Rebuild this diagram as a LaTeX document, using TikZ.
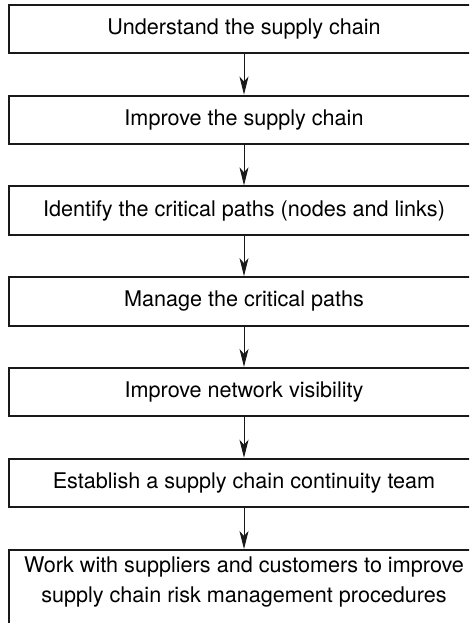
\documentclass[tikz,border=0pt]{standalone}
\usepackage{fontspec}
\setmainfont{TeX Gyre Heros}
\usetikzlibrary{arrows.meta}
\begin{document}
\begin{tikzpicture}[x=1pt,y=-1pt,
    stepbox/.style={draw=black!90,line width=2pt,minimum width=470pt,minimum height=48.5pt,inner sep=0pt,font=\fontsize{21.6}{30}\selectfont},
    steptext/.style={align=center,inner sep=0pt,font=\fontsize{21.6}{30}\selectfont},
    flow/.style={-{Stealth[length=18pt,width=9pt,inset=5pt]},line width=0.9pt,black!90}]
    \clip (0,0) rectangle (469,623);

    \node[stepbox] (1) at (244,29) {Understand the supply chain};
    \node[stepbox] (2) at (244,119.8) {Improve the supply chain};
    \node[stepbox] (3) at (244,210.6) {Identify the critical paths (nodes and links)};
    \node[stepbox] (4) at (244,301.4) {Manage the critical paths};
    \node[stepbox] (5) at (244,392.2) {Improve network visibility};
    \node[stepbox] (6) at (244,483) {Establish a supply chain continuity team};
    \node[stepbox,minimum height=90pt,anchor=north] (7) at (244,549) {};
    \node[steptext,anchor=north] (7t) at (244,556.5) {Work with suppliers and customers to improve\\supply chain risk management procedures};

    \path
    (1) edge[flow] (2)
    (2) edge[flow] (3)
    (3) edge[flow] (4)
    (4) edge[flow] (5)
    (5) edge[flow] (6)
    (6) edge[flow] (7);
\end{tikzpicture}
\end{document}
